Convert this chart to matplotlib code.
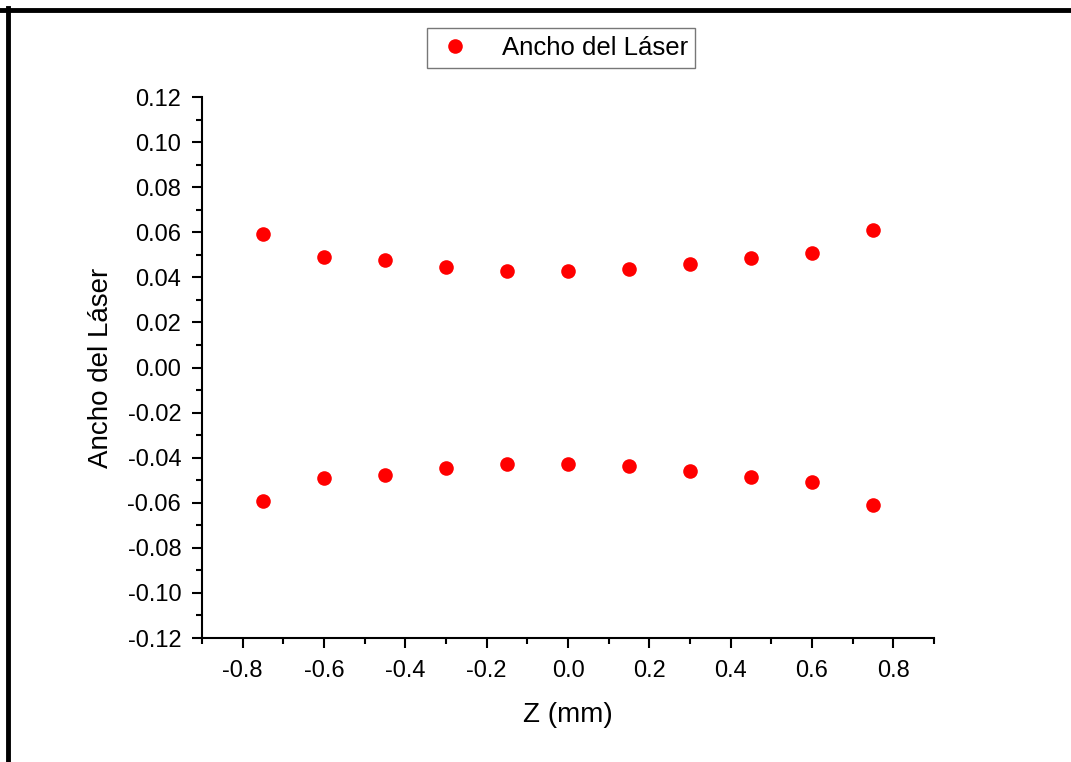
import matplotlib.pyplot as plt
from matplotlib.lines import Line2D
from matplotlib.ticker import MultipleLocator, FormatStrFormatter

plt.rcParams['font.family'] = ['Liberation Sans', 'DejaVu Sans']

# posiciones z (mm) y ancho medido (semi-ancho superior / inferior)
z = [-0.75, -0.6, -0.45, -0.3, -0.15, 0.0, 0.15, 0.3, 0.45, 0.6, 0.75]
ancho_sup = [0.0592, 0.0489, 0.0475, 0.0444, 0.0428, 0.0427, 0.0436, 0.0461, 0.0484, 0.0508, 0.0608]
ancho_inf = [-0.0592, -0.0489, -0.0475, -0.0444, -0.0428, -0.0427, -0.0436, -0.0461, -0.0484, -0.0508, -0.0608]

fig = plt.figure(figsize=(10.71, 7.62), dpi=100)
ax = fig.add_axes([0.1886, 0.1627, 0.6835, 0.71])

ax.plot(z + z, ancho_sup + ancho_inf, 'o', color='#ff0000', markersize=10.5,
        markeredgewidth=0, label='Ancho del Láser')

ax.set_xlim(-0.9, 0.9)
ax.set_ylim(-0.12, 0.12)
ax.xaxis.set_major_locator(MultipleLocator(0.2))
ax.xaxis.set_minor_locator(MultipleLocator(0.1))
ax.yaxis.set_major_locator(MultipleLocator(0.02))
ax.yaxis.set_minor_locator(MultipleLocator(0.01))
ax.xaxis.set_major_formatter(FormatStrFormatter('%.1f'))
ax.yaxis.set_major_formatter(FormatStrFormatter('%.2f'))

for s in ['top', 'right']:
    ax.spines[s].set_visible(False)
for s in ['left', 'bottom']:
    ax.spines[s].set_linewidth(1.5)

ax.tick_params(which='major', direction='out', length=7, width=1.5, labelsize=17)
ax.tick_params(axis='x', which='major', pad=9)
ax.tick_params(axis='y', which='major', pad=8)
ax.tick_params(which='minor', direction='out', length=4, width=1.5)

ax.set_xlabel('Z (mm)', fontsize=20, labelpad=14)
ax.set_ylabel('Ancho del Láser', fontsize=20, labelpad=10)

leg = fig.legend(loc='center', bbox_to_anchor=(0.524, 0.937), fontsize=18.5,
                 frameon=True, fancybox=False, edgecolor='#555555',
                 handletextpad=1.0, borderpad=0.3, handlelength=1.6)
leg.get_frame().set_linewidth(1.0)

# marco del gráfico (solo arriba e izquierda visibles)
fig.add_artist(Line2D([0.0, 1.0], [0.9875, 0.9875], color='black', linewidth=3.5,
                      transform=fig.transFigure))
fig.add_artist(Line2D([0.0075, 0.0075], [0.0, 0.989], color='black', linewidth=3.5,
                      transform=fig.transFigure))

fig.savefig('out.png', dpi=100)
